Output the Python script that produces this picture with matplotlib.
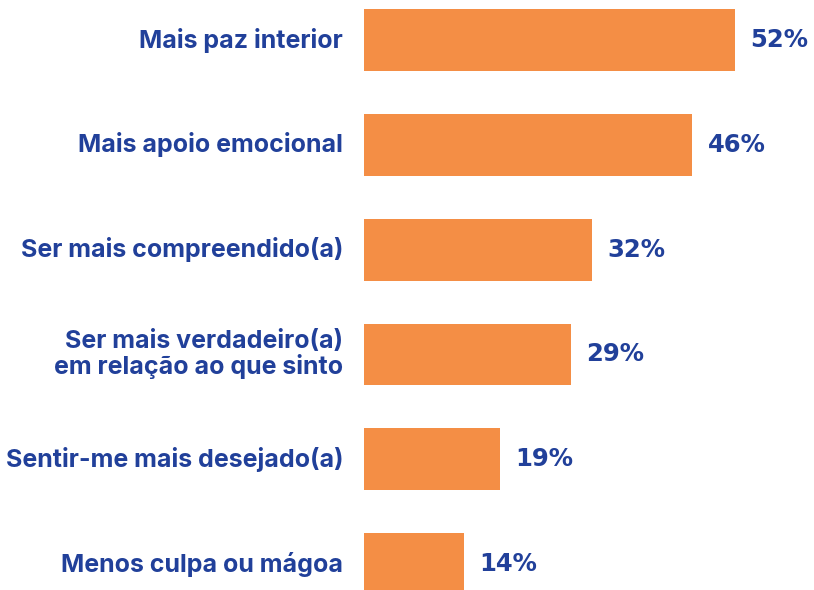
import matplotlib
matplotlib.use("Agg")
import matplotlib.pyplot as plt
import numpy as np

categories = [
    "Mais paz interior",
    "Mais apoio emocional",
    "Ser mais compreendido(a)",
    "Ser mais verdadeiro(a)\nem relação ao que sinto",
    "Sentir-me mais desejado(a)",
    "Menos culpa ou mágoa",
]
values = [52, 46, 32, 29, 19, 14]
value_labels = ["52%", "46%", "32%", "29%", "19%", "14%"]

bar_color = "#F48E45"
text_color = "#21409A"

fig = plt.figure(figsize=(8.14, 5.9), dpi=100)
ax = fig.add_axes([364 / 814, 0, 1 - 364 / 814, 1])

y = np.arange(len(categories))
ax.barh(y, values, height=0.59, color=bar_color)

ax.set_xlim(0, 63.07)
ax.set_ylim(5.248, -0.382)
ax.axis("off")

for yi, v, lab in zip(y, values, value_labels):
    ax.annotate(lab, xy=(v, yi), xytext=(11, 0), textcoords="offset points",
                ha="left", va="center", fontsize=17.5, fontweight="heavy",
                family="DejaVu Sans", color=text_color)

for yi, cat in zip(y, categories):
    ax.annotate(cat, xy=(0, yi), xytext=(-15, 0), textcoords="offset points",
                ha="right", va="center", fontsize=18, fontweight="bold",
                family="Inter", color=text_color, linespacing=1.05,
                annotation_clip=False)

fig.savefig("out.png", dpi=100)
